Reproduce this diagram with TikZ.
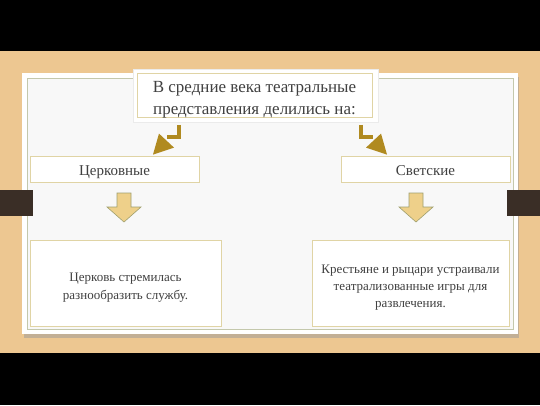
\documentclass[tikz,border=0pt]{standalone}
\usepackage{fontspec}
\setmainfont{Liberation Serif}
\usetikzlibrary{calc}
\definecolor{wood}{RGB}{237,199,145}
\definecolor{gold}{RGB}{176,138,32}
\definecolor{khaki}{RGB}{224,212,165}
\definecolor{panelline}{RGB}{196,200,172}
\definecolor{tabc}{RGB}{58,46,38}
\definecolor{arrowfill}{RGB}{238,208,138}
\definecolor{arrowdraw}{RGB}{160,160,110}
\definecolor{txt}{RGB}{64,64,64}
\definecolor{paper}{RGB}{248,248,248}
\newcommand\shifttext[2]{\raisebox{#1}[\height][\depth]{\begin{tabular}{@{}c@{}}#2\end{tabular}}}
\begin{document}
\begin{tikzpicture}[x=1pt,y=-1pt,
  box/.style={draw=khaki, line width=0.8pt, fill=white, text=txt, align=center, inner sep=0pt},
  bent/.style={gold, line width=4pt},
  head/.style={fill=gold},
  blockarrow/.style={fill=arrowfill, draw=arrowdraw, line width=0.6pt, line join=miter}]
\useasboundingbox (0,0) rectangle (540,405);
% background
\fill[black] (0,0) rectangle (540,51);
\fill[wood] (0,51) rectangle (540,353);
\fill[black] (0,353) rectangle (540,405);
% panel
\fill[black!40, opacity=0.5] (24,77) rectangle (519,338);
\fill[white] (22,73) rectangle (518,334);
\draw[panelline, line width=1pt, fill=paper] (27,78) rectangle (513,329);
% tabs
\fill[tabc] (0,190) rectangle (33,216);
\fill[tabc] (507,190) rectangle (540,216);
% title frame
\fill[white, draw=black!8] (133,69) rectangle (378,122);
\node[box, minimum width=235pt, minimum height=39pt, font=\fontsize{17}{22}\selectfont] (title) at (254.5,95.5)
  {\shifttext{-4pt}{В средние века театральные\\представления делились на:}};
% category boxes
\node[box, minimum width=169pt, minimum height=26pt, font=\fontsize{15}{18}\selectfont] (church) at (114.5,169) {\shifttext{-3pt}{Церковные}};
\node[box, minimum width=169pt, minimum height=26pt, font=\fontsize{15}{18}\selectfont] (secular) at (425.5,169) {\shifttext{-3pt}{Светские}};
% lower boxes
\node[box, minimum width=191pt, minimum height=86pt, font=\fontsize{13}{18}\selectfont] (churchtxt) at (125.5,283)
  {\shifttext{-4pt}{Церковь стремилась\\разнообразить службу.}};
\node[box, minimum width=197pt, minimum height=86pt, font=\fontsize{13}{17}\selectfont] (seculartxt) at (410.5,283)
  {\shifttext{-4pt}{Крестьяне и рыцари устраивали\\театрализованные игры для\\развлечения.}};
% bent connectors
\coordinate (lt) at ($(church.north)+(38.5,-1)$);
\coordinate (rt) at ($(secular.north)+(-38.5,-1)$);
\draw[bent] ($(title.south)+(-75.5,7)$) |- ($(lt)+(14,-18)$);
\fill[head] (lt) -- ++(6,-21) -- ++(15,14) -- cycle;
\draw[bent] ($(title.south)+(106.5,7)$) |- ($(rt)+(-14,-18)$);
\fill[head] (rt) -- ++(-6,-21) -- ++(-15,14) -- cycle;
% block arrows
\draw[blockarrow] (117,193) -- (131,193) -- (131,207) -- (141,207) -- (124,222) -- (107,207) -- (117,207) -- cycle;
\draw[blockarrow] (409,193) -- (423,193) -- (423,207) -- (433,207) -- (416,222) -- (399,207) -- (409,207) -- cycle;
\end{tikzpicture}
\end{document}
